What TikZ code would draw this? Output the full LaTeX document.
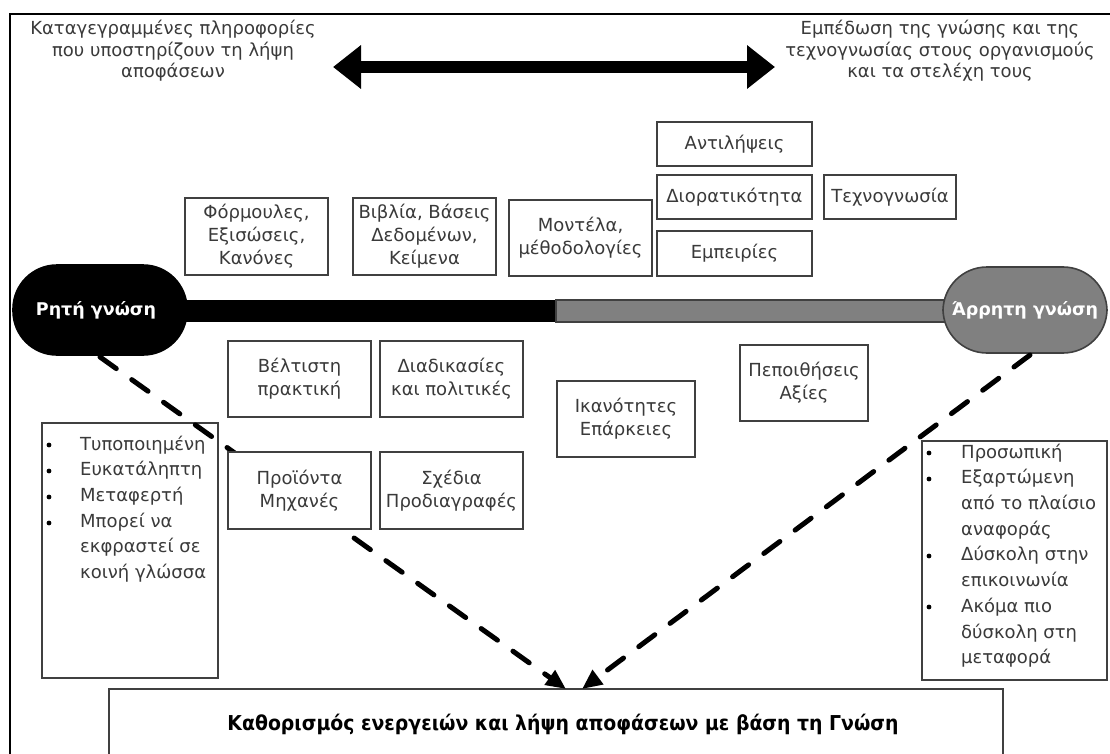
\documentclass[tikz,border=0pt]{standalone}
\usepackage{fontspec}
\setmainfont{DejaVu Sans}
\newfontfamily\narrowbold[FakeStretch=0.92]{DejaVu Sans}
\usetikzlibrary{arrows.meta}
\definecolor{ink}{HTML}{3A3A3A}
\definecolor{edge}{HTML}{404040}
\definecolor{tacit}{HTML}{808080}
\tikzset{
  x=1pt, y=-1pt,
  txt/.style={font=\fontsize{18}{21.5}\selectfont, text=ink, align=center, inner sep=0pt},
  box/.style={draw=edge, line width=1.6pt, fill=white, align=center, text=ink,
    font=\fontsize{18}{23}\selectfont, inner sep=1pt},
  listbox/.style={draw=edge, line width=1.6pt},
  listtxt/.style={font=\fontsize{18}{25.7}\selectfont, text=ink, inner sep=0pt, anchor=north west},
  pill/.style={rounded corners=44pt, line width=1.6pt},
  pilltxt/.style={font=\fontsize{17.5}{20}\selectfont\bfseries, text=white, inner sep=0pt},
  flow/.style={line width=5pt, line cap=round, dash pattern=on 20pt off 19pt,
    -{Triangle[length=20pt,width=17pt]}},
}
\begin{document}
\begin{tikzpicture}
\useasboundingbox (0,0) rectangle (1110,754);
\begin{scope}
\clip (0,0) rectangle (1110,754);

% outer frame
\draw[line width=2.4pt] (10,14) rectangle (1130,780);

% captions and the double arrow between them
\node[txt] (codified) at (173,51) {Καταγεγραμμένες πληροφορίες\\που υποστηρίζουν τη λήψη\\αποφάσεων};
\node[txt] (embedded) at (940,51) {Εμπέδωση της γνώσης και της\\τεχνογνωσίας στους οργανισμούς\\και τα στελέχη τους};
\coordinate (al) at (333,67);
\coordinate (ar) at (775,67);
\draw[line width=12pt, {Triangle[length=28pt,width=42pt]}-{Triangle[length=28pt,width=42pt]}] (al) -- (ar);

% spectrum bar
\fill[black] (90,300) rectangle (556,322);
\draw[draw=edge, fill=tacit, line width=1.4pt] (556,300) rectangle (960,322);

% ends of the spectrum
\draw[pill, fill=black, draw=black] (13,265) rectangle (187,355);
\node[pilltxt] (explicit) at (96,310) {Ρητή γνώση};
\draw[pill, fill=tacit, draw=edge] (943,267) rectangle (1107,353);
\node[pilltxt] (tacitk) at (1025,310) {Άρρητη γνώση};
\coordinate (eb) at (100,357);
\coordinate (tb) at (1030,355);

% property lists
\draw[listbox] (42,423) rectangle (218,678);
\foreach \yy in {445,471,497,523} \fill[black] (49,\yy) circle (2.4pt);
\node[listtxt] (elist) at (80,432) {\begin{tabular}{@{}l@{}}Τυποποιημένη\\Ευκατάληπτη\\Μεταφερτή\\Μπορεί να\\εκφραστεί σε\\κοινή γλώσσα\end{tabular}};

\draw[listbox] (922,441) rectangle (1107,680);
\foreach \yy in {453,479,556,607} \fill[black] (929,\yy) circle (2.4pt);
\node[listtxt] (tlist) at (961,440) {\begin{tabular}{@{}l@{}}Προσωπική\\Εξαρτώμενη\\από το πλαίσιο\\αναφοράς\\Δύσκολη στην\\επικοινωνία\\Ακόμα πιο\\δύσκολη στη\\μεταφορά\end{tabular}};

% target box
\node[draw=edge, line width=1.6pt, fill=white, minimum width=894pt, minimum height=90pt, anchor=north west, inner sep=0pt] (goal) at (108,688) {};
\node[text=black, inner sep=0pt] (goaltxt) at (563,724) {\narrowbold\bfseries\fontsize{20.5}{24}\selectfont Καθορισμός ενεργειών και λήψη αποφάσεων με βάση τη Γνώση};
\coordinate (gl) at (566,689);
\coordinate (gr) at (582,689);

% flows into the target
\draw[flow] (eb) -- (gl);
\draw[flow] (tb) -- (gr);

% knowledge forms along the spectrum
\node[box, minimum width=143pt, minimum height=77pt] (formulas) at (256.5,236.5) {Φόρμουλες,\\Εξισώσεις,\\Κανόνες};
\node[box, minimum width=143pt, minimum height=77pt] (books) at (424.5,236.5) {Βιβλία, Βάσεις\\Δεδομένων,\\Κείμενα};
\node[box, minimum width=143pt, minimum height=76pt] (models) at (580.5,238) {Μοντέλα,\\μέθοδολογίες};
\node[box, minimum width=155pt, minimum height=44pt] (percept) at (734.5,144) {Αντιλήψεις};
\node[box, minimum width=155pt, minimum height=44pt] (insight) at (734.5,197) {Διορατικότητα};
\node[box, minimum width=155pt, minimum height=45pt] (exper) at (734.5,253.5) {Εμπειρίες};
\node[box, minimum width=132pt, minimum height=44pt] (knowhow) at (890,197) {Τεχνογνωσία};
\node[box, minimum width=143pt, minimum height=76pt] (best) at (299.5,379) {Βέλτιστη\\πρακτική};
\node[box, minimum width=143pt, minimum height=76pt] (proc) at (451.5,379) {Διαδικασίες\\και πολιτικές};
\node[box, minimum width=138pt, minimum height=76pt] (skills) at (626,419) {Ικανότητες\\Επάρκειες};
\node[box, minimum width=128pt, minimum height=76pt] (beliefs) at (804,383) {Πεποιθήσεις\\Αξίες};
\node[box, minimum width=143pt, minimum height=77pt] (products) at (299.5,490.5) {Προϊόντα\\Μηχανές};
\node[box, minimum width=143pt, minimum height=77pt] (designs) at (451.5,490.5) {Σχέδια\\Προδιαγραφές};
\end{scope}
\end{tikzpicture}
\end{document}
